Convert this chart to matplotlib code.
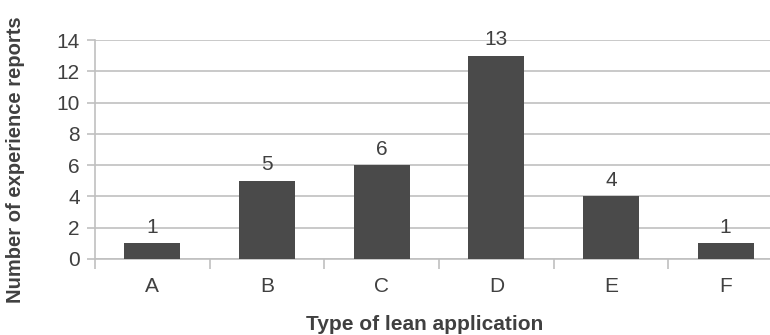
import matplotlib
matplotlib.use("Agg")
import matplotlib.pyplot as plt
import numpy as np

categories = ["A", "B", "C", "D", "E", "F"]
reports = [1, 5, 6, 13, 4, 1]
y_ticks = [0, 2, 4, 6, 8, 10, 12, 14]

plt.rcParams['font.family'] = ['Liberation Sans', 'DejaVu Sans']
txt = '#404040'
grid = '#c0c0c0'
fs = 15

fig = plt.figure(figsize=(7.7, 3.35), dpi=100)
# plot area runs slightly past the right edge, as in the original
ax = fig.add_axes([95 / 770, 1 - 259 / 335, 688 / 770, 219 / 335])

x = np.arange(len(categories))
bars = ax.bar(x, reports, width=0.49, color='#4a4a4a', zorder=3)
for b, v in zip(bars, reports):
    ax.annotate(str(v), (b.get_x() + b.get_width() / 2, v),
                xytext=(0, 7.5), textcoords='offset points', ha='center',
                va='baseline', fontsize=fs, color=txt, zorder=4)

ax.set_xlim(-0.5, len(categories) - 0.5)
ax.set_ylim(0, 14)
ax.set_yticks(y_ticks)
ax.set_yticklabels([str(t) for t in y_ticks], fontsize=fs, color=txt)
ax.yaxis.grid(True, color=grid, linewidth=1.2, zorder=0)

# category labels centred, tick marks between categories
ax.set_xticks(x)
ax.set_xticklabels(categories, fontsize=fs, color=txt)
ax.tick_params(axis='x', length=0, pad=13)
ax.set_xticks(np.arange(len(categories) + 1) - 0.5, minor=True)
ax.tick_params(axis='x', which='minor', length=7, color=grid, width=1.2)
ax.tick_params(axis='y', length=6, color=grid, width=1.2, pad=5)

for s in ['top', 'right']:
    ax.spines[s].set_visible(False)
ax.spines['left'].set_color(grid)
ax.spines['bottom'].set_color(grid)
ax.spines['left'].set_linewidth(1.2)
ax.spines['bottom'].set_linewidth(1.2)

fig.text(16 / 770, 1 - 160 / 335, 'Number of experience reports', rotation=90,
         ha='center', va='center', fontsize=14.5, fontweight='bold', color=txt)
fig.text(425 / 770, 1 - 325 / 335, 'Type of lean application', ha='center',
         va='center', fontsize=15, fontweight='bold', color=txt)

fig.savefig('out.png', dpi=100)
